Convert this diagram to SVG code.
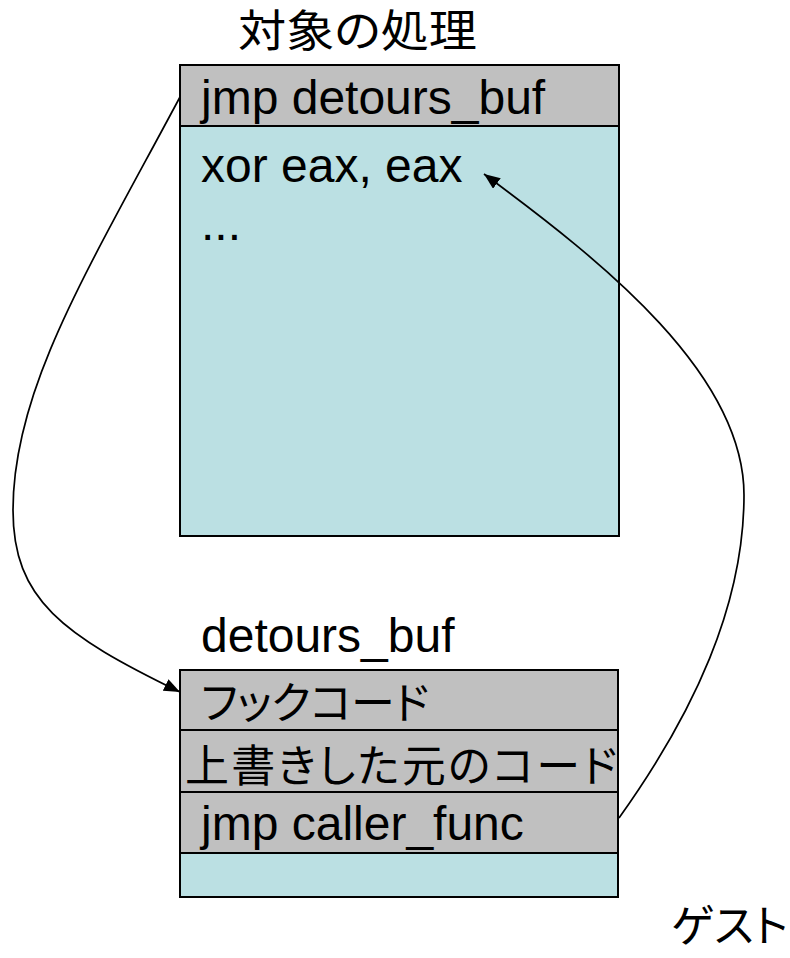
<svg xmlns="http://www.w3.org/2000/svg" width="790" height="958" viewBox="0 0 790 958">
  <defs>
    <style>
      .lat { font-family: "Liberation Sans", Arial, sans-serif; font-size: 48px; fill: #000; }
      .cjk { font-family: "Noto Sans CJK JP", "Noto Sans CJK SC", sans-serif; font-size: 44px; fill: #000; font-feature-settings: "palt"; }
      .hdr { fill: #C0C0C0; stroke: #000; stroke-width: 2; }
      .body { fill: #BBE0E3; stroke: #000; stroke-width: 2; }
      .conn { fill: none; stroke: #000; stroke-width: 1.7; }
    </style>
    <marker id="arrow" markerUnits="userSpaceOnUse" markerWidth="17" markerHeight="13" refX="16" refY="6.5" orient="auto">
      <path d="M0,0 L16,6.5 L0,13 z" fill="#000"/>
    </marker>
  </defs>
  <rect width="790" height="958" fill="#fff"/>

  <g id="target">
    <text class="cjk" x="238" y="46.5" font-size="46" textLength="239" lengthAdjust="spacingAndGlyphs">対象の処理</text>
    <rect class="body" x="180" y="65" width="439" height="471"/>
    <rect class="hdr" x="180" y="65" width="439" height="61"/>
    <text class="lat" x="201" y="114">jmp detours_buf</text>
    <text class="lat" x="201" y="182">xor eax, eax</text>
    <text class="lat" x="201" y="240">...</text>
  </g>

  <g id="detours_buf">
    <text class="lat" x="201" y="652">detours_buf</text>
    <rect class="body" x="180" y="670" width="438" height="227"/>
    <rect class="hdr" x="180" y="670" width="438" height="60"/>
    <rect class="hdr" x="180" y="730" width="438" height="62"/>
    <rect class="hdr" x="180" y="792" width="438" height="61"/>
    <text class="cjk" x="201" y="719" textLength="228" lengthAdjust="spacing">フックコード</text>
    <text class="cjk" x="185" y="782" textLength="432" lengthAdjust="spacing">上書きした元のコード</text>
    <text class="lat" x="201" y="840">jmp caller_func</text>
  </g>

  <g id="guest">
    <text class="cjk" x="671" y="942" textLength="117" lengthAdjust="spacing">ゲスト</text>
  </g>

  <g id="connectors">
    <path class="conn" d="M180,97 C86,273 13,390 13,510 C13,600 63,635 180,692" marker-end="url(#arrow)"/>
    <path class="conn" d="M619,818 C694,713 744,605 744,495 C744,375 605,263 484,174" marker-end="url(#arrow)"/>
  </g>
</svg>
